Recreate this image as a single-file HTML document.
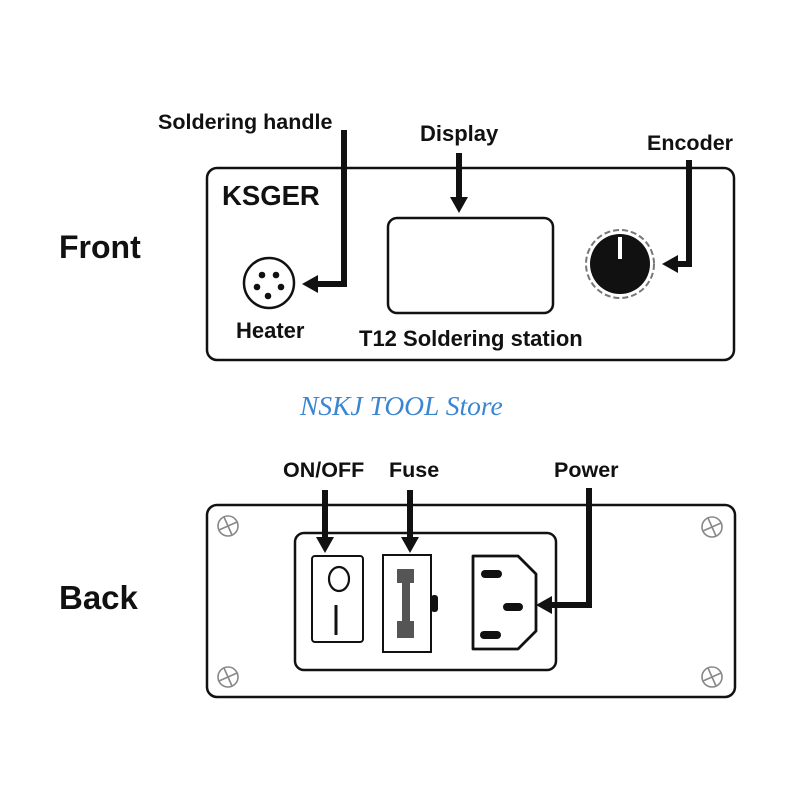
<!DOCTYPE html>
<html><head><meta charset="utf-8"><style>
html,body{margin:0;padding:0;background:#fff;}
svg{display:block;}
text{font-family:"Liberation Sans",Arial,sans-serif;font-weight:bold;fill:#111;}
</style></head><body>
<svg width="800" height="800" viewBox="0 0 800 800" xmlns="http://www.w3.org/2000/svg">
<!-- Front -->
<text x="59" y="258" font-size="32">Front</text>
<rect x="207" y="168" width="527" height="192" rx="10" fill="none" stroke="#111" stroke-width="2.5"/>
<text x="222" y="205" font-size="27.5">KSGER</text>
<circle cx="269" cy="283" r="25" fill="none" stroke="#111" stroke-width="2.5"/>
<g fill="#111"><circle cx="262" cy="275" r="3.3"/><circle cx="276" cy="275" r="3.3"/><circle cx="257" cy="287" r="3.3"/><circle cx="281" cy="287" r="3.3"/><circle cx="268" cy="296" r="3.3"/></g>
<text x="236" y="338" font-size="22">Heater</text>
<rect x="388" y="218" width="165" height="95" rx="9" fill="none" stroke="#111" stroke-width="2.5"/>
<text x="359" y="346" font-size="22">T12 Soldering station</text>
<circle cx="620" cy="264" r="34" fill="none" stroke="#777" stroke-width="2" stroke-dasharray="6 3"/>
<circle cx="620" cy="264" r="30" fill="#111"/>
<rect x="618" y="237" width="4" height="22" fill="#fff"/>
<!-- front arrows -->
<text x="158" y="129" font-size="21.5">Soldering handle</text>
<polyline points="344,130 344,284 316,284" fill="none" stroke="#111" stroke-width="6"/>
<polygon points="302,284 318,275 318,293" fill="#111"/>
<text x="420" y="141" font-size="22">Display</text>
<line x1="459" y1="153" x2="459" y2="200" stroke="#111" stroke-width="6"/>
<polygon points="459,213 450,197 468,197" fill="#111"/>
<text x="647" y="150" font-size="21.5">Encoder</text>
<polyline points="689,160 689,264 676,264" fill="none" stroke="#111" stroke-width="6"/>
<polygon points="662,264 678,255 678,273" fill="#111"/>
<!-- watermark -->
<text x="300" y="415" font-size="27.5" style="font-family:'Liberation Serif',serif;font-style:italic;font-weight:normal;fill:#3a86d0">NSKJ TOOL Store</text>
<!-- Back -->
<text x="59" y="609" font-size="33">Back</text>
<rect x="207" y="505" width="528" height="192" rx="10" fill="none" stroke="#111" stroke-width="2.5"/>
<g stroke="#888" stroke-width="1.6" fill="none">
<g transform="translate(228,526)"><circle r="10"/><line x1="-4" y1="-9" x2="4" y2="9"/><line x1="-9" y1="4" x2="9" y2="-4"/></g>
<g transform="translate(712,527)"><circle r="10"/><line x1="-4" y1="-9" x2="4" y2="9"/><line x1="-9" y1="4" x2="9" y2="-4"/></g>
<g transform="translate(228,677)"><circle r="10"/><line x1="-4" y1="-9" x2="4" y2="9"/><line x1="-9" y1="4" x2="9" y2="-4"/></g>
<g transform="translate(712,677)"><circle r="10"/><line x1="-4" y1="-9" x2="4" y2="9"/><line x1="-9" y1="4" x2="9" y2="-4"/></g>
</g>
<rect x="295" y="533" width="261" height="137" rx="9" fill="none" stroke="#111" stroke-width="2.5"/>
<rect x="312" y="556" width="51" height="86" rx="3" fill="none" stroke="#111" stroke-width="2"/>
<ellipse cx="339" cy="579" rx="10" ry="12" fill="none" stroke="#111" stroke-width="2.2"/>
<line x1="336" y1="605" x2="336" y2="635" stroke="#111" stroke-width="3"/>
<rect x="383" y="555" width="48" height="97" fill="none" stroke="#111" stroke-width="2"/>
<g fill="#555"><rect x="397" y="569" width="17" height="14"/><rect x="402" y="582" width="8" height="40"/><rect x="397" y="621" width="17" height="17"/></g>
<rect x="431" y="595" width="7" height="17" rx="3" fill="#111"/>
<polygon points="473,556 518,556 536,574 536,631 518,649 473,649" fill="none" stroke="#111" stroke-width="2.8" stroke-linejoin="round"/>
<g stroke="#111" stroke-width="8" stroke-linecap="round"><line x1="485" y1="574" x2="498" y2="574"/><line x1="507" y1="607" x2="519" y2="607"/><line x1="484" y1="635" x2="497" y2="635"/></g>
<!-- back arrows -->
<text x="283" y="477" font-size="21.5">ON/OFF</text>
<line x1="325" y1="490" x2="325" y2="540" stroke="#111" stroke-width="6"/>
<polygon points="325,553 316,537 334,537" fill="#111"/>
<text x="389" y="477" font-size="21.5">Fuse</text>
<line x1="410" y1="490" x2="410" y2="540" stroke="#111" stroke-width="6"/>
<polygon points="410,553 401,537 419,537" fill="#111"/>
<text x="554" y="477" font-size="21.5">Power</text>
<polyline points="589,488 589,605 550,605" fill="none" stroke="#111" stroke-width="6"/>
<polygon points="536,605 552,596 552,614" fill="#111"/>
</svg>
</body></html>
